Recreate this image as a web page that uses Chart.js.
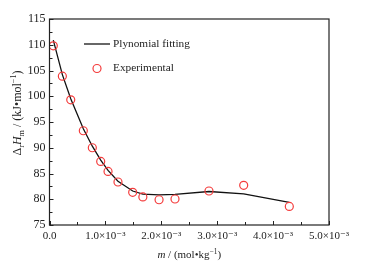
<!DOCTYPE html>
<html>
<head>
<meta charset="utf-8">
<script src="https://cdn.jsdelivr.net/npm/chart.js@4/dist/chart.umd.min.js"></script>
<style>
html,body{margin:0;padding:0;background:#fff;}
#c{display:block;}
</style>
</head>
<body>
<canvas id="c" width="366" height="270"></canvas>
<script>
// molality m / (mol·kg⁻¹)
const molality = [0.000068, 0.00023, 0.00038, 0.000605, 0.000766, 0.000916, 0.001047, 0.001225, 0.001488, 0.00167, 0.00196, 0.002245, 0.002853, 0.003474, 0.00429];
// experimental ΔrHm / (kJ·mol⁻¹)
const experimental = [109.8, 103.9, 99.3, 93.3, 90.0, 87.35, 85.4, 83.35, 81.35, 80.45, 79.9, 80.05, 81.6, 82.7, 78.6];
// polynomial fitting values at the same molalities
const fitted = [110.9, 104.2, 99.5, 93.7, 90.3, 87.6, 85.6, 83.5, 81.6, 81.0, 80.85, 80.95, 81.5, 81.05, 79.4];
const xTickLabels = ["0.0", "1.0×10⁻³", "2.0×10⁻³", "3.0×10⁻³", "4.0×10⁻³", "5.0×10⁻³"];
const seriesNames = ["Plynomial fitting", "Experimental"];

const SERIF = '"Liberation Serif", "DejaVu Serif", serif';
const RED = '#f43c3c';

function richText(ctx, segs, size, align) {
  let total = 0;
  const parts = segs.map(s => {
    const fs = (s.sub || s.sup) ? size * 0.68 : size;
    const font = (s.italic ? 'italic ' : '') + fs + 'px ' + SERIF;
    ctx.font = font;
    const w = ctx.measureText(s.t).width;
    total += w;
    return {s, font, w, fs};
  });
  let x = align === 'center' ? -total / 2 : 0;
  ctx.textBaseline = 'alphabetic';
  ctx.textAlign = 'left';
  parts.forEach(p => {
    ctx.font = p.font;
    let dy = 0;
    if (p.s.sub) dy = size * 0.25;
    if (p.s.sup) dy = -size * 0.38;
    ctx.fillText(p.s.t, x, dy);
    x += p.w;
  });
}

const framePlugin = {
  id: 'frame',
  afterDraw(chart) {
    const ctx = chart.ctx;
    const a = chart.chartArea;
    const xs = chart.scales.x, ys = chart.scales.y;
    ctx.save();
    ctx.strokeStyle = '#222';
    ctx.lineWidth = 1.2;
    ctx.strokeRect(a.left, a.top, a.right - a.left, a.bottom - a.top);
    ctx.lineWidth = 1;
    for (let i = 0; i <= 10; i++) {
      const px = Math.round(xs.getPixelForValue(i * 0.0005)) + 0.5;
      ctx.beginPath();
      ctx.moveTo(px, a.bottom);
      ctx.lineTo(px, a.bottom - (i % 2 === 0 ? 4 : 3));
      ctx.stroke();
    }
    for (let v = 75; v <= 115; v += 2.5) {
      const py = Math.round(ys.getPixelForValue(v)) + 0.5;
      ctx.beginPath();
      ctx.moveTo(a.left, py);
      ctx.lineTo(a.left + ((v % 5 === 0) ? 4 : 3), py);
      ctx.stroke();
    }
    // legend
    ctx.fillStyle = '#222';
    ctx.font = '11.3px ' + SERIF;
    ctx.textBaseline = 'middle';
    ctx.textAlign = 'left';
    ctx.strokeStyle = '#000';
    ctx.lineWidth = 1.2;
    ctx.beginPath();
    ctx.moveTo(84, 44);
    ctx.lineTo(110, 44);
    ctx.stroke();
    ctx.fillText(seriesNames[0], 113, 44);
    ctx.strokeStyle = RED;
    ctx.beginPath();
    ctx.arc(97, 68.5, 4, 0, Math.PI * 2);
    ctx.stroke();
    ctx.fillText(seriesNames[1], 113, 68.5);
    // axis titles
    ctx.fillStyle = '#222';
    ctx.save();
    ctx.translate((a.left + a.right) / 2, 258);
    richText(ctx, [{t: 'm', italic: true}, {t: ' / (mol•kg'}, {t: '−1', sup: true}, {t: ')'}], 11, 'center');
    ctx.restore();
    ctx.save();
    ctx.translate(21, 113);
    ctx.rotate(-Math.PI / 2);
    richText(ctx, [{t: 'Δ'}, {t: 'r', sub: true}, {t: 'H', italic: true}, {t: 'm', sub: true}, {t: ' / (kJ•mol'}, {t: '−1', sup: true}, {t: ')'}], 12, 'center');
    ctx.restore();
    ctx.restore();
  }
};

new Chart(document.getElementById('c'), {
  type: 'scatter',
  data: {
    datasets: [
      {
        label: seriesNames[0],
        data: molality.map((x, i) => ({x, y: fitted[i]})),
        showLine: true,
        pointRadius: 0,
        borderColor: '#111',
        borderWidth: 1.3,
        tension: 0,
        order: 2
      },
      {
        label: seriesNames[1],
        data: molality.map((x, i) => ({x, y: experimental[i]})),
        showLine: false,
        pointRadius: 4,
        pointStyle: 'circle',
        borderColor: RED,
        backgroundColor: 'rgba(255,255,255,0)',
        pointBorderWidth: 1.2,
        order: 1
      }
    ]
  },
  options: {
    responsive: false,
    animation: false,
    devicePixelRatio: 1,
    layout: {padding: {top: 19, right: 37, left: 0, bottom: 0}},
    plugins: {legend: {display: false}, tooltip: {enabled: false}},
    scales: {
      x: {
        type: 'linear',
        min: 0, max: 0.005,
        grid: {display: false, drawTicks: false},
        border: {display: false},
        ticks: {
          stepSize: 0.001,
          padding: 5,
          color: '#222',
          font: {family: SERIF, size: 11},
          maxRotation: 0,
          autoSkip: false,
          callback: (v, i) => xTickLabels[i]
        },
        afterFit: s => { s.height = 45; }
      },
      y: {
        min: 75, max: 115,
        grid: {display: false, drawTicks: false},
        border: {display: false},
        ticks: {
          stepSize: 5,
          padding: 4,
          color: '#222',
          font: {family: SERIF, size: 12}
        },
        afterFit: s => { s.width = 49.5; }
      }
    }
  },
  plugins: [framePlugin]
});
</script>
</body>
</html>
